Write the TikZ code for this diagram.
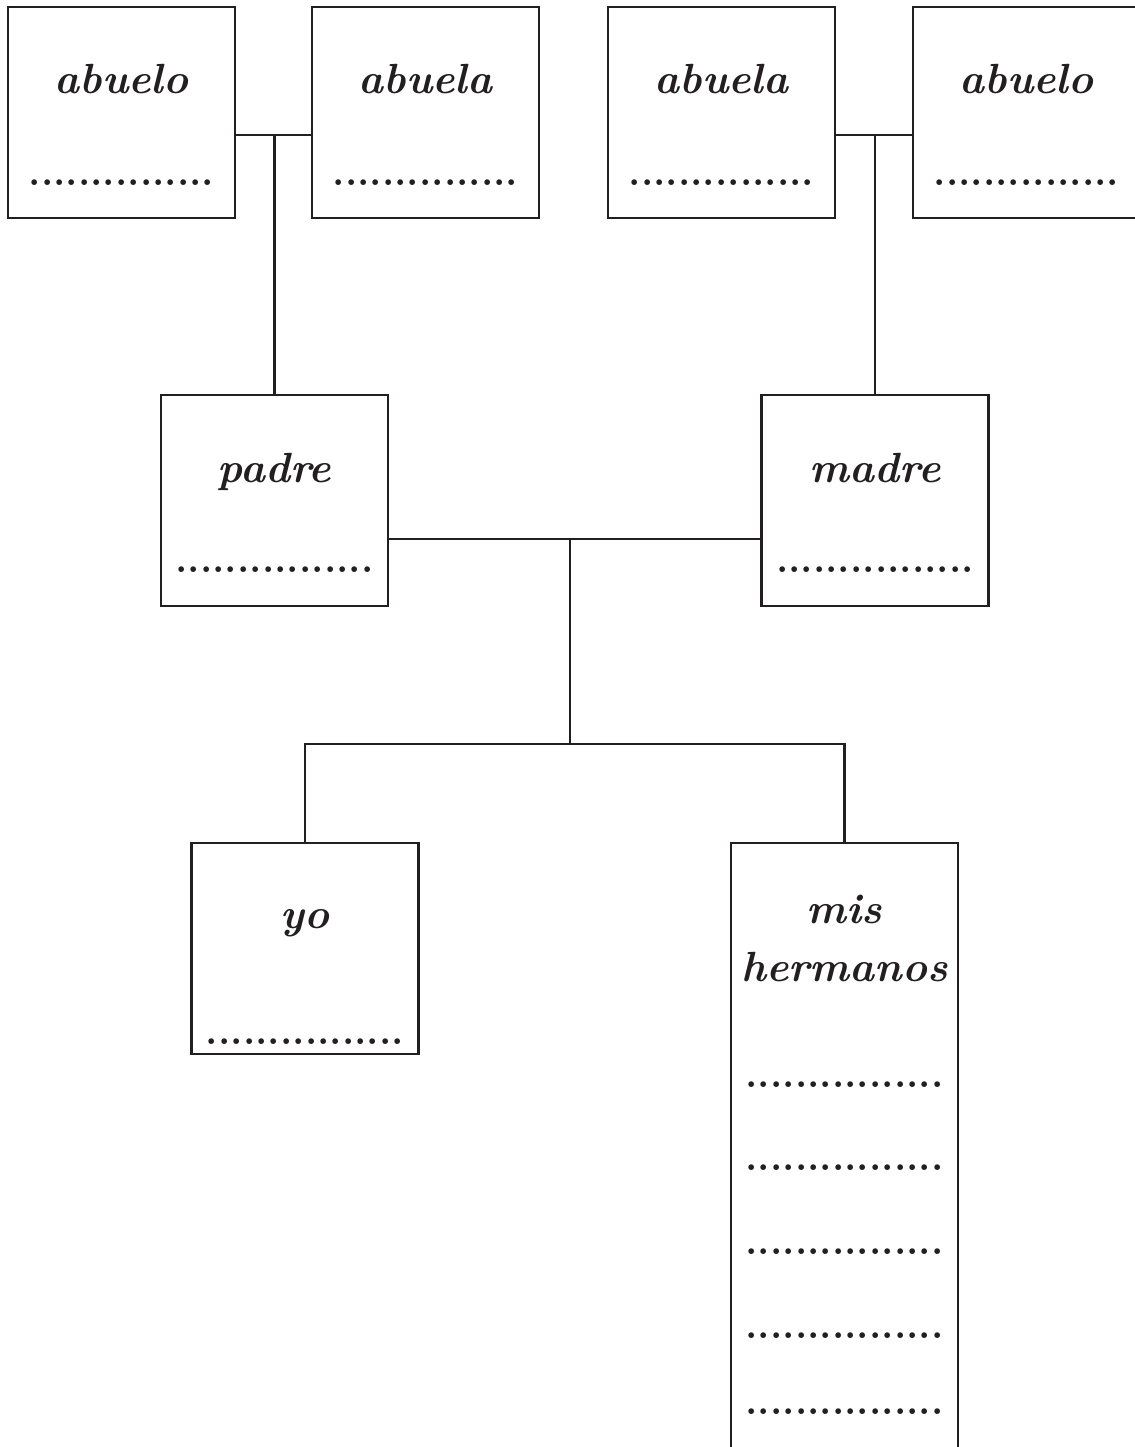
\documentclass[tikz,border=0pt]{standalone}
\usepackage{fontspec}
\definecolor{ink}{HTML}{231F20}

\begin{document}
\begin{tikzpicture}[
  kin/.style={rectangle, draw=ink, line width=1.3pt, minimum width=4.54cm, minimum height=4.22cm, inner sep=0pt},
  kinname/.style={anchor=base, text=ink, align=center, font=\fontsize{24}{29}\selectfont\bfseries\itshape},
  fillin/.style={anchor=base, text=ink, font=\fontsize{22.5}{26}\selectfont\bfseries},
  link/.style={draw=ink, line width=1.3pt}]
  \useasboundingbox (0,0) rectangle (22.7,-28.94);
  % grandparents
  \node[kin] (abueloP) at (2.43,-2.25) {};
  \node[kin] (abuelaP) at (8.51,-2.25) {};
  \node[kin] (abuelaM) at (14.43,-2.25) {};
  \node[kin] (abueloM) at (20.53,-2.25) {};
  % parents
  \node[kin] (padre) at (5.49,-10.01) {};
  \node[kin] (madre) at (17.50,-10.01) {};
  % children
  \node[kin] (yo) at (6.10,-18.97) {};
  \node[kin, minimum height=12.4cm] (hermanos) at (16.89,-23.06) {};

  \node[kinname] at ([yshift=-1.76cm]abueloP.north) {abuelo};
  \node[kinname] at ([yshift=-1.76cm]abuelaP.north) {abuela};
  \node[kinname] at ([yshift=-1.76cm]abuelaM.north) {abuela};
  \node[kinname] at ([yshift=-1.76cm]abueloM.north) {abuelo};
  \node[kinname] at ([yshift=-1.78cm]padre.north) {padre};
  \node[kinname] at ([yshift=-1.78cm]madre.north) {madre};
  \node[kinname] at ([yshift=-1.74cm]yo.north) {yo};
  \node[kinname] at ([yshift=-1.64cm]hermanos.north) {mis};
  \node[kinname] at ([yshift=-2.80cm]hermanos.north) {hermanos};

  \node[fillin] at ([yshift=0.67cm]abueloP.south) {...............};
  \node[fillin] at ([yshift=0.67cm]abuelaP.south) {...............};
  \node[fillin] at ([yshift=0.67cm]abuelaM.south) {...............};
  \node[fillin] at ([yshift=0.67cm]abueloM.south) {...............};
  \node[fillin] at ([yshift=0.70cm]padre.south) {................};
  \node[fillin] at ([yshift=0.70cm]madre.south) {................};
  \node[fillin] at ([yshift=0.22cm]yo.south) {................};
  \foreach \d in {4.92,6.58,8.26,9.94,11.46}
    \node[fillin] at ([yshift=-\d cm]hermanos.north) {................};

  % connectors
  \coordinate (jP) at (5.49,-2.70);
  \coordinate (jM) at (17.50,-2.70);
  \coordinate (jPar) at (11.40,-10.78);
  \coordinate (jKids) at (11.40,-14.88);
  \draw[link] ([yshift=-0.45cm]abueloP.east) -- ([yshift=-0.45cm]abuelaP.west);
  \draw[link] (jP) -- (padre.north);
  \draw[link] ([yshift=-0.45cm]abuelaM.east) -- ([yshift=-0.45cm]abueloM.west);
  \draw[link] (jM) -- (madre.north);
  \draw[link] ([yshift=-0.77cm]padre.east) -- ([yshift=-0.77cm]madre.west);
  \draw[link] (jPar) -- (jKids);
  \draw[link] (yo.north) |- (jKids) -| (hermanos.north);
\end{tikzpicture}
\end{document}
